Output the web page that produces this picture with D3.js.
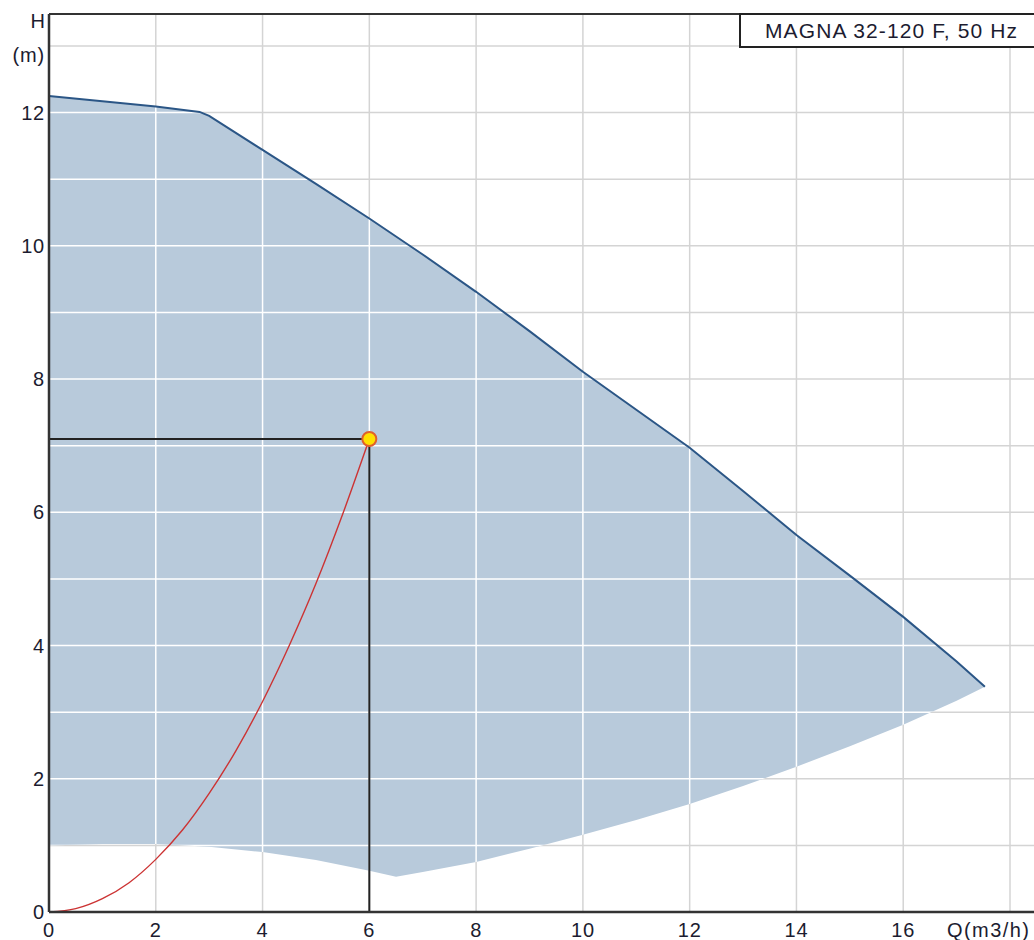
<!DOCTYPE html>
<html>
<head>
<meta charset="utf-8">
<script src="https://cdn.jsdelivr.net/npm/d3@7"></script>
<style>
  html, body { margin: 0; padding: 0; background: #fff; }
  svg text { font-family: "Liberation Sans", Arial, sans-serif; fill: #1c1c30; }
</style>
</head>
<body>
<svg id="chart" width="1034" height="940"></svg>
<script>
// ---- data ----
const title = "MAGNA 32-120 F, 50 Hz";
const xTicks = [0, 2, 4, 6, 8, 10, 12, 14, 16];
const yTicks = [0, 2, 4, 6, 8, 10, 12];
const xGrid = [0, 2, 4, 6, 8, 10, 12, 14, 16, 18];
const yGrid = [1, 2, 3, 4, 5, 6, 7, 8, 9, 10, 11, 12, 13];

// max curve (upper boundary)
const maxQ = [0, 1, 2, 2.82, 3, 4, 5, 6, 7, 8, 9, 10, 11, 12, 13, 14, 15, 16, 17, 17.53];
const maxH = [12.25, 12.17, 12.09, 12.01, 11.95, 11.44, 10.93, 10.41, 9.87, 9.31, 8.72, 8.11, 7.54, 6.97, 6.32, 5.66, 5.05, 4.43, 3.76, 3.38];
// min curve (lower boundary)
const minQ = [0, 1, 2, 3, 4, 5, 6, 6.5, 7, 8, 9, 10, 11, 12, 13, 14, 15, 16, 17, 17.53];
const minH = [1.0, 1.02, 1.02, 0.98, 0.9, 0.78, 0.62, 0.53, 0.6, 0.75, 0.95, 1.16, 1.38, 1.62, 1.89, 2.18, 2.49, 2.81, 3.17, 3.38];
// system curve
const sysQ = [0, 0.5, 1, 1.5, 2, 2.5, 3, 3.5, 4, 4.5, 5, 5.5, 6];
const sysH = [0, 0.05, 0.2, 0.44, 0.79, 1.23, 1.78, 2.42, 3.16, 4.0, 4.93, 5.97, 7.1];
// duty point
const dutyQ = 6.0, dutyH = 7.1;

// ---- layout ----
const svg = d3.select("#chart");
const x = d3.scaleLinear().domain([0, 18]).range([49, 1010]);
const y = d3.scaleLinear().domain([0, 13]).range([912, 46]);
const pL = 49, pR = 1040, pT = 14, pB = 912;

const upper = maxQ.map((q, i) => [q, maxH[i]]);
const lower = minQ.map((q, i) => [q, minH[i]]);
const areaPts = upper.concat(lower.slice().reverse());
const poly = d3.line().x(d => x(d[0])).y(d => y(d[1]));

svg.append("rect").attr("width", 1034).attr("height", 940).attr("fill", "#fff");

const defs = svg.append("defs");
defs.append("clipPath").attr("id", "areaClip")
  .append("path").attr("d", poly(areaPts) + "Z");

function grid(g, color) {
  g.selectAll("line.v").data(xGrid).join("line").attr("class", "v")
    .attr("x1", d => x(d)).attr("x2", d => x(d)).attr("y1", pT).attr("y2", pB)
    .attr("stroke", color).attr("stroke-width", 1.5);
  g.selectAll("line.h").data(yGrid).join("line").attr("class", "h")
    .attr("x1", pL).attr("x2", pR).attr("y1", d => y(d)).attr("y2", d => y(d))
    .attr("stroke", color).attr("stroke-width", 1.5);
}
grid(svg.append("g"), "#d4d4d4");

// filled region
svg.append("path").attr("d", poly(areaPts) + "Z").attr("fill", "#b8cadb");
grid(svg.append("g").attr("clip-path", "url(#areaClip)"), "#ffffff");

// upper curve
svg.append("path").attr("d", poly(upper)).attr("fill", "none")
  .attr("stroke", "#2b5686").attr("stroke-width", 2);

// system curve
const sys = sysQ.map((q, i) => [q, sysH[i]]);
svg.append("path")
  .attr("d", d3.line().x(d => x(d[0])).y(d => y(d[1])).curve(d3.curveMonotoneX)(sys))
  .attr("fill", "none").attr("stroke", "#cc3333").attr("stroke-width", 1.4);

// duty lines
svg.append("line").attr("x1", pL).attr("x2", x(dutyQ)).attr("y1", y(dutyH)).attr("y2", y(dutyH))
  .attr("stroke", "#222").attr("stroke-width", 2);
svg.append("line").attr("x1", x(dutyQ)).attr("x2", x(dutyQ)).attr("y1", y(dutyH)).attr("y2", pB)
  .attr("stroke", "#222").attr("stroke-width", 2);
svg.append("circle").attr("cx", x(dutyQ)).attr("cy", y(dutyH)).attr("r", 7)
  .attr("fill", "#ffe000").attr("stroke", "#e0602a").attr("stroke-width", 2);

// frame
svg.append("line").attr("x1", pL).attr("x2", pR).attr("y1", pT).attr("y2", pT)
  .attr("stroke", "#333").attr("stroke-width", 2);
svg.append("line").attr("x1", pL).attr("x2", pL).attr("y1", pT).attr("y2", pB)
  .attr("stroke", "#333").attr("stroke-width", 2.5);
svg.append("line").attr("x1", pL).attr("x2", pR).attr("y1", pB).attr("y2", pB)
  .attr("stroke", "#333").attr("stroke-width", 2.5);

// title box
svg.append("rect").attr("x", 740).attr("y", 14).attr("width", 310).attr("height", 33)
  .attr("fill", "#fff").attr("stroke", "#222").attr("stroke-width", 2);
svg.append("text").attr("x", 765).attr("y", 38).attr("font-size", 21)
  .attr("textLength", 252).attr("lengthAdjust", "spacing").text(title);

const fs = 20, ls = "0.8px";
// y tick labels
svg.selectAll("text.yt").data(yTicks).join("text").attr("class", "yt")
  .attr("x", 45).attr("y", d => y(d) + 7).attr("text-anchor", "end")
  .attr("font-size", fs).attr("letter-spacing", ls).text(d => d);
// x tick labels
svg.selectAll("text.xt").data(xTicks).join("text").attr("class", "xt")
  .attr("x", d => x(d)).attr("y", 937).attr("text-anchor", "middle")
  .attr("font-size", fs).attr("letter-spacing", ls).text(d => d);

svg.append("text").attr("x", 45).attr("y", 28).attr("text-anchor", "end").attr("font-size", fs).text("H");
svg.append("text").attr("x", 45).attr("y", 62).attr("text-anchor", "end").attr("font-size", fs).attr("letter-spacing", ls).text("(m)");
svg.append("text").attr("x", 947).attr("y", 937).attr("font-size", fs)
  .attr("textLength", 82).attr("lengthAdjust", "spacing").text("Q(m3/h)");
</script>
</body>
</html>
